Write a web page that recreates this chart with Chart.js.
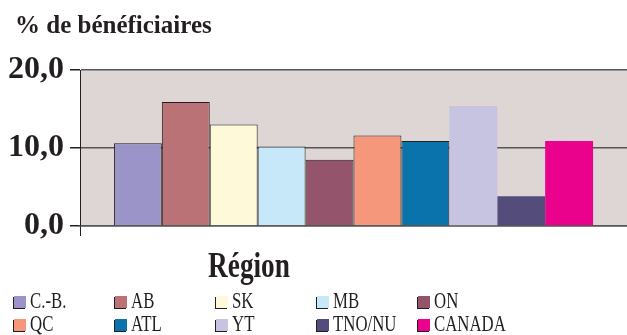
<!DOCTYPE html>
<html>
<head>
<meta charset="utf-8">
<script src="https://cdn.jsdelivr.net/npm/chart.js@4/dist/chart.umd.min.js"></script>
<style>
  body { margin: 0; background: #fff; }
  #wrap { position: relative; width: 627px; height: 335px; overflow: hidden; font-family: "Liberation Serif", serif; color: #231f20; }
  #chartBox { position: absolute; left: 0; top: 0; width: 627px; height: 335px; }
  #title { position: absolute; left: 15px; top: 12px; font-size: 25px; line-height: 25px; font-weight: bold; white-space: nowrap; }
  #xtitle { position: absolute; left: 249px; top: 248px; font-size: 35px; line-height: 35px; font-weight: bold; transform: translateX(-50%) scaleX(0.78); white-space: nowrap; }
  .item { position: absolute; height: 20px; white-space: nowrap; }
  .box { position: absolute; left: 0; top: 4px; width: 12px; height: 12px; box-shadow: -1px 1px 0 #231f20; }
  .lab { position: absolute; left: 16px; top: -3px; font-size: 23px; line-height: 23px; transform: scaleX(0.73); transform-origin: left center; }
</style>
</head>
<body>
<div id="wrap">
  <div id="chartBox"><canvas id="chart"></canvas></div>
  <div id="title">% de bénéficiaires</div>
  <div id="xtitle">Région</div>
  <div id="legend"></div>
</div>
<script>
const regions = ["C.-B.", "AB", "SK", "MB", "ON", "QC", "ATL", "YT", "TNO/NU", "CANADA"];
const values = [10.6, 15.9, 13.0, 10.2, 8.5, 11.6, 10.9, 15.4, 3.8, 10.9];
const colors = ["#9b94c8", "#bb7276", "#fef9d8", "#c7e8f8", "#94546c", "#f4977a", "#0b73ac", "#c6c4e0", "#544d7c", "#ea028d"];
const yTicks = [0, 10, 20];

var datasets = regions.map(function(r, i){
    return {
        label: r,
        data: [values[i]],
        backgroundColor: colors[i],
        borderColor: "#231f20",
        borderWidth: i < 7 ? 1 : 0,
        borderSkipped: "bottom",
        barPercentage: 1,
        categoryPercentage: 0.876
    };
});

const plotBg = {
    id: 'plotBg',
    beforeDraw(chart){
        const a = chart.chartArea, c = chart.ctx;
        c.save();
        c.fillStyle = "#ddd6d4";
        c.fillRect(a.left, a.top, a.right - a.left, a.bottom - a.top);
        c.restore();
    }
};

var ctx = document.getElementById('chart').getContext('2d');
var chart = new Chart(ctx, {
    type: 'bar',
    data: { labels: [""], datasets: datasets },
    options: {
        responsive: true,
        maintainAspectRatio: false,
        animation: false,
        layout: { padding: { left: 2, top: 70, right: 0, bottom: 99 } },
        plugins: { legend: { display: false }, tooltip: { enabled: false } },
        scales: {
            x: {
                ticks: { display: false },
                grid: { drawOnChartArea: false, drawTicks: true, tickLength: 10, color: "#231f20" },
                border: { color: "#555", width: 1.5 }
            },
            y: {
                min: 0,
                max: 20,
                afterBuildTicks: function(s){ s.ticks = yTicks.map(function(v){ return { value: v }; }); },
                ticks: {
                    padding: 6,
                    color: "#231f20",
                    font: { family: "Liberation Serif", weight: "bold", size: 32 },
                    callback: function(v){ return v.toFixed(1).replace('.', ','); }
                },
                grid: { color: "#555", lineWidth: 1.5, tickLength: 10, tickColor: "#231f20" },
                border: { color: "#231f20", width: 1 }
            }
        }
    },
    plugins: [plotBg]
});

var legendEl = document.getElementById('legend');
regions.forEach(function(r, i){
    var col = i % 5, row = Math.floor(i / 5);
    var item = document.createElement('div');
    item.className = 'item';
    item.style.left = (14 + col * 101) + 'px';
    item.style.top = (292 + row * 23) + 'px';
    item.innerHTML = '<div class="box" style="background:' + colors[i] + '"></div><div class="lab">' + r + '</div>';
    legendEl.appendChild(item);
});
</script>
</body>
</html>
